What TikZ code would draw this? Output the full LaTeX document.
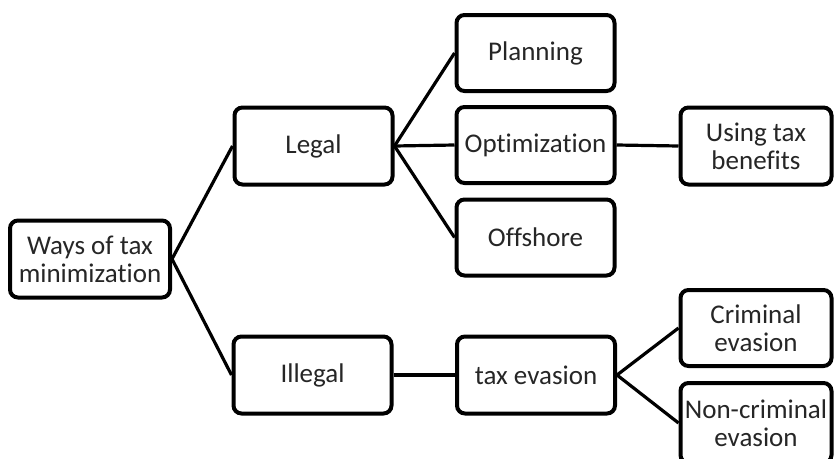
\documentclass[tikz,border=0pt]{standalone}
\usepackage{fontspec}
\setmainfont{Carlito}[Ligatures=NoCommon]
\begin{document}
\begin{tikzpicture}[x=1pt,y=-1pt,
  box/.style={draw=black, line width=4pt, rounded corners=8pt, fill=white,
    minimum width=158pt, minimum height=77pt, align=center, inner sep=0pt,
    text=black!85, font=\fontsize{27}{28}\selectfont},
  edge/.style={draw=black, line width=3.2pt}]
\useasboundingbox (0,0) rectangle (835,458);
\node[box, minimum width=160pt] (root) at (90,259) {Ways of tax\\minimization};
\node[box] (legal) at (313.5,146) {Legal};
\node[box] (illegal) at (312.5,375) {Illegal};
\node[box, minimum height=76pt] (plan) at (535.5,53) {Planning};
\node[box, minimum height=76pt] (opt) at (535.5,145) {Optimization};
\node[box, minimum height=76pt] (off) at (535.5,237.5) {Offshore};
\node[box, minimum width=151pt] (using) at (756,146) {Using tax\\benefits};
\node[box] (evasion) at (536,375) {tax evasion};
\node[box, minimum width=151pt, minimum height=76pt] (crim) at (756,328) {Criminal\\evasion};
\node[box, minimum width=151pt, minimum height=80pt] (noncrim) at (756,423) {Non-criminal\\evasion};
\draw[edge] (root.east) -- (legal.west);
\draw[edge] (root.east) -- (illegal.west);
\draw[edge] (legal.east) -- (plan.west);
\draw[edge] (legal.east) -- (opt.west);
\draw[edge] (legal.east) -- (off.west);
\draw[edge] (opt.east) -- (using.west);
\draw[edge] (illegal.east) -- (evasion.west);
\draw[edge] (evasion.east) -- (crim.west);
\draw[edge] (evasion.east) -- (noncrim.west);
\end{tikzpicture}
\end{document}
